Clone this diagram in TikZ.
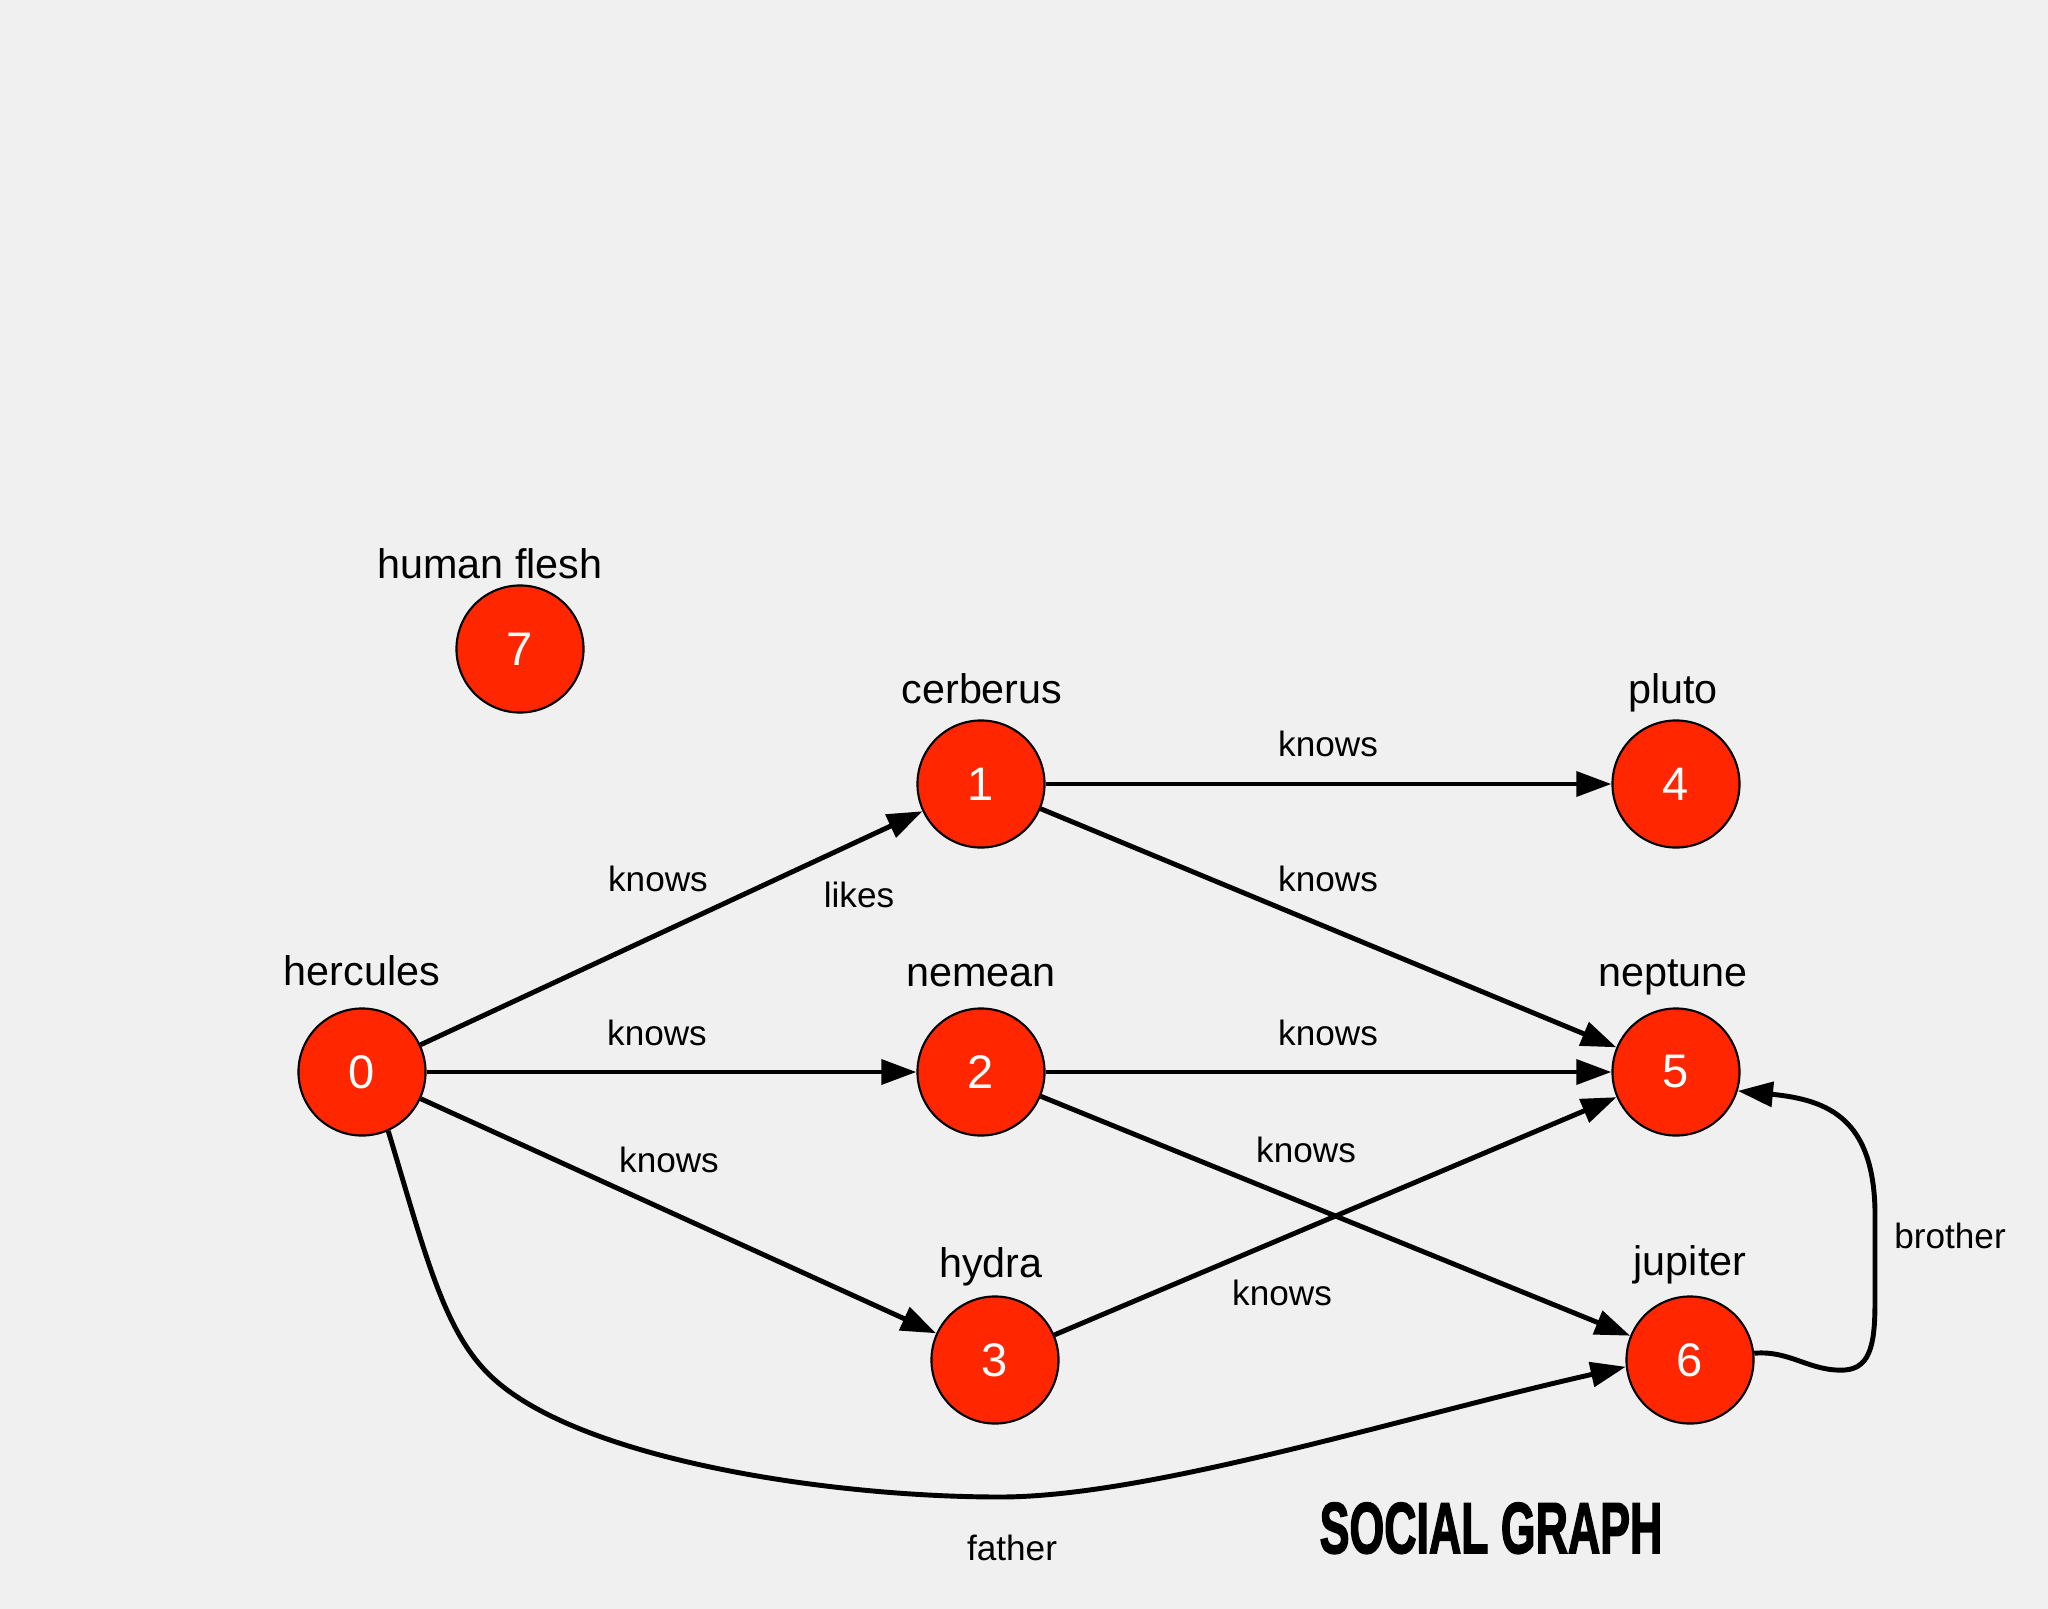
\documentclass[tikz,border=0pt]{standalone}
\usepackage{fontspec}
\setmainfont{Liberation Sans}
\newfontfamily\titlefont[FakeBold=2.5]{Liberation Sans}
\usetikzlibrary{arrows.meta}
\definecolor{bgcol}{RGB}{241,240,241}
\definecolor{nodered}{RGB}{255,38,0}

\begin{document}
\begin{tikzpicture}[
    x=0.01cm, y=-0.01cm,
    vnode/.style={circle, draw=black, line width=0.6pt, fill=nodered, minimum size=1.27cm, inner sep=0pt, text=white, font=\fontsize{13.4pt}{16pt}\selectfont},
    vname/.style={anchor=base, inner sep=0pt, font=\fontsize{11.75pt}{14pt}\selectfont},
    ename/.style={anchor=base, inner sep=0pt, font=\fontsize{10pt}{12pt}\selectfont},
    rel/.style={draw, line width=1.4pt, -{Triangle[length=10pt, width=7pt]}}
]
    \fill[bgcol] (0,0) rectangle (2048,1609);

    \node[vnode] (n0) at (362,1072) {0};
    \node[vnode] (n1) at (981,784) {1};
    \node[vnode] (n2) at (981,1072) {2};
    \node[vnode] (n3) at (995,1360) {3};
    \node[vnode] (n4) at (1676,784) {4};
    \node[vnode] (n5) at (1676,1072) {5};
    \node[vnode] (n6) at (1690,1360) {6};
    \node[vnode] (n7) at (520,649) {7};

    \node[vname] (name0) at (362,985) {hercules};
    \node[vname] (name1) at (982,703) {cerberus};
    \node[vname] (name2) at (981,986) {nemean};
    \node[vname] (name3) at (991,1277) {hydra};
    \node[vname] (name4) at (1673,703) {pluto};
    \node[vname] (name5) at (1673,986) {neptune};
    \node[vname] (name6) at (1690,1275) {jupiter};
    \node[vname] (name7) at (490,578) {human flesh};

    \draw[rel] (n0) -- (n1);
    \draw[rel] (n0) -- (n2);
    \draw[rel] (n0) -- (n3);
    \draw[rel] (n1) -- (n4);
    \draw[rel] (n1) -- (n5);
    \draw[rel] (n2) -- (n5);
    \draw[rel] (n2) -- (n6);
    \draw[rel] (n3) -- (n5);
    \draw[rel] (n0.-66) .. controls (427,1260) and (445,1336) .. (495,1380)
        .. controls (585,1460) and (830,1497) .. (1000,1497)
        .. controls (1150,1497) and (1403,1417) .. (n6.186);
    \draw[rel] (n6.6) .. controls (1790,1350) and (1810,1372) .. (1845,1370)
        .. controls (1872,1368) and (1875,1340) .. (1875,1300) -- (1875,1210)
        .. controls (1873,1120) and (1830,1100) .. (n5.-17);

    \node[ename] (k01) at (658,891) {knows};
    \node[ename] (l01) at (859,907) {likes};
    \node[ename] (k02) at (657,1045) {knows};
    \node[ename] (k03) at (669,1172) {knows};
    \node[ename] (k14) at (1328,756) {knows};
    \node[ename] (k15) at (1328,891) {knows};
    \node[ename] (k25) at (1328,1045) {knows};
    \node[ename] (k26) at (1306,1162) {knows};
    \node[ename] (k35) at (1282,1305) {knows};
    \node[ename] (f06) at (1012,1560) {father};
    \node[ename] (b65) at (1950,1248) {brother};

    \node[anchor=base, inner sep=0pt] (title) at (1491,1553)
        {\titlefont\bfseries\fontsize{20.5pt}{24pt}\selectfont\scalebox{0.62}[1]{SOCIAL GRAPH}};
\end{tikzpicture}
\end{document}
